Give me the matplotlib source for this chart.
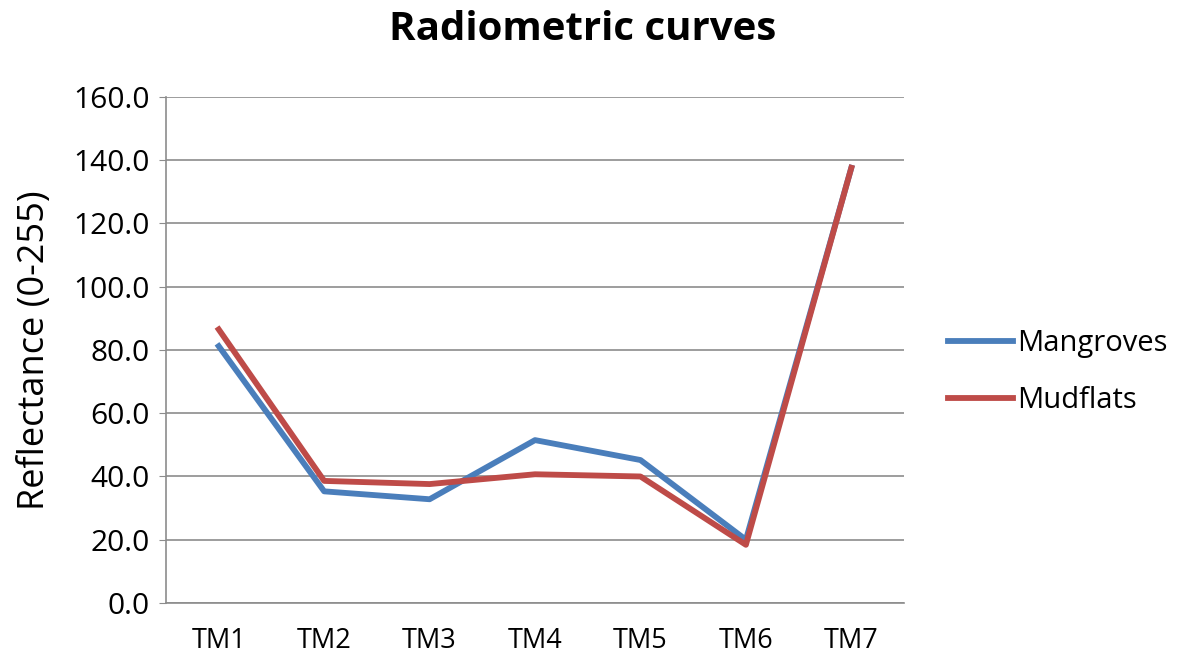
import matplotlib
matplotlib.use("Agg")
import matplotlib.pyplot as plt

bands = ["TM1", "TM2", "TM3", "TM4", "TM5", "TM6", "TM7"]
mangroves = [81.2, 35.3, 32.8, 51.5, 45.2, 20.0, 137.6]
mudflats = [86.5, 38.6, 37.6, 40.7, 40.0, 18.4, 137.6]

plt.rcParams["font.family"] = ["Open Sans", "DejaVu Sans"]

fig = plt.figure(figsize=(11.79, 6.55), dpi=100)
ax = fig.add_axes([0.1408, 0.0794, 0.626, 0.7726])

x = range(len(bands))
ax.plot(x, mangroves, color="#4A7EBB", lw=4.2, label="Mangroves", solid_joinstyle="round")
ax.plot(x, mudflats, color="#BE4B48", lw=4.2, label="Mudflats", solid_joinstyle="round")

ax.set_xlim(-0.5, 6.5)
ax.set_ylim(0, 160)
ax.set_yticks(range(0, 161, 20))
ax.set_yticklabels([f"{v:.1f}" for v in range(0, 161, 20)], fontsize=21.5)
ax.set_xticks(list(x))
ax.set_xticklabels(bands, fontsize=19.5)
ax.grid(axis="y", color="#8c8c8c", lw=1.2)
ax.set_axisbelow(True)
for s in ["top", "right"]:
    ax.spines[s].set_visible(False)
for s in ["left", "bottom"]:
    ax.spines[s].set_color("#8c8c8c")
    ax.spines[s].set_linewidth(1.2)
ax.tick_params(axis="y", length=5, color="#8c8c8c", pad=7)
ax.tick_params(axis="x", length=0, pad=17)

ax.set_ylabel("Reflectance (0-255)", fontsize=26, labelpad=14)
fig.suptitle("Radiometric curves", fontsize=29, fontweight="bold", x=0.494, y=0.985)

ax.legend(loc="center left", bbox_to_anchor=(1.06, 0.4565), frameon=False,
          borderaxespad=0, borderpad=0,
          fontsize=21, handlelength=2.2, handletextpad=0.15, labelspacing=0.95)

fig.savefig("out.png", dpi=100)
